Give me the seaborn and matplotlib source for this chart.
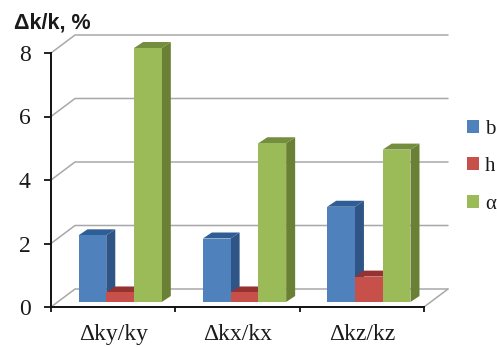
import matplotlib
matplotlib.use("Agg")
import matplotlib.pyplot as plt
from matplotlib.patches import Patch, Polygon
from matplotlib.transforms import Affine2D
import pandas as pd
import seaborn as sns

categories = ["\u0394ky/ky", "\u0394kx/kx", "\u0394kz/kz"]
b_values = [2.1, 2.0, 3.0]
h_values = [0.3, 0.3, 0.8]
alpha_values = [8.0, 5.0, 4.8]
series_names = ["b", "h", "\u03b1"]
y_ticks = [0, 2, 4, 6, 8]

front_colors = ["#4F81BD", "#C8504B", "#9BBB59"]
side_colors = ["#2F5587", "#8E3734", "#6A8135"]
top_colors = ["#2F5E96", "#963330", "#748E3F"]

W, H = 497, 347
sns.set_theme(style="white")
plt.rcParams["font.family"] = ["Liberation Serif", "DejaVu Serif"]

fig = plt.figure(figsize=(W / 100, H / 100), dpi=100, facecolor="white")
ax = fig.add_axes([51 / W, (H - 307) / H, 373 / W, 254 / H])

df = pd.DataFrame({
    "category": categories * 3,
    "series": [s for s in series_names for _ in categories],
    "value": b_values + h_values + alpha_values,
})
sns.barplot(data=df, x="category", y="value", hue="series", hue_order=series_names,
            palette=front_colors, saturation=1, width=0.67, gap=0, legend=False,
            errorbar=None, ax=ax, linewidth=0)

ax.set_xlim(-0.5, 2.5)
ax.set_ylim(0, 8)
ax.set_xlabel("")
ax.set_ylabel("")

# Oblique back wall and floor, in pixels relative to the front axes
wall_dx, wall_dy = 24, 18
pixel = matplotlib.transforms.IdentityTransform()
grid_color = "#A8A8A8"
for v in y_ticks:
    x0, y0 = ax.transData.transform((-0.5, v))
    x1, _ = ax.transData.transform((2.5, v))
    xs = [x0, x0 + wall_dx, x1 + wall_dx]
    ys = [y0, y0 + wall_dy, y0 + wall_dy]
    ax.add_line(plt.Line2D(xs, ys, transform=pixel, color=grid_color, lw=1.1,
                           zorder=1, clip_on=False))
x1, y0 = ax.transData.transform((2.5, 0))
ax.add_line(plt.Line2D([x1, x1 + wall_dx], [y0, y0 + wall_dy], transform=pixel,
                       color=grid_color, lw=1.1, zorder=1, clip_on=False))

# Extrude every bar into a box standing slightly behind the front axis plane
bar_shift = Affine2D().translate(7, 5)
depth_dx, depth_dy = 9, 6
n_cat = len(categories)
for i, bar in enumerate(ax.patches):
    s = i // n_cat
    z = 3 + i % n_cat * 10 + s * 3
    bar.set_transform(ax.transData + bar_shift)
    bar.set_zorder(z + 2)
    bar.set_clip_on(False)
    (xa, ya), (xb, yb) = (ax.transData + bar_shift).transform(
        [(bar.get_x(), 0), (bar.get_x() + bar.get_width(), bar.get_height())])
    side = [(xb, ya), (xb + depth_dx, ya + depth_dy), (xb + depth_dx, yb + depth_dy), (xb, yb)]
    top = [(xa, yb), (xa + depth_dx, yb + depth_dy), (xb + depth_dx, yb + depth_dy), (xb, yb)]
    ax.add_patch(Polygon(side, closed=True, transform=pixel, facecolor=side_colors[s],
                         edgecolor="none", zorder=z, clip_on=False))
    ax.add_patch(Polygon(top, closed=True, transform=pixel, facecolor=top_colors[s],
                         edgecolor="none", zorder=z + 1, clip_on=False))

# Axes: ticks on the category boundaries, labels centred between them
ax.set_yticks(y_ticks)
ax.set_xticks([-0.5, 0.5, 1.5, 2.5])
ax.set_xticklabels([])
ax.set_xticks([0, 1, 2], minor=True)
ax.set_xticklabels(categories, minor=True)
ax.tick_params(axis="x", which="major", bottom=True, length=3.6, width=1.3, color="#111111")
ax.tick_params(axis="x", which="minor", bottom=False, length=0, pad=12,
               labelsize=17, labelcolor="#1a1a1a")
ax.tick_params(axis="y", left=True, length=4.7, width=1.3, color="#111111", pad=10,
               labelsize=17, labelcolor="#1a1a1a")
for name in ("top", "right"):
    ax.spines[name].set_visible(False)
for name in ("left", "bottom"):
    ax.spines[name].set_color("#111111")
    ax.spines[name].set_linewidth(1.4)
    ax.spines[name].set_zorder(60)
ax.patch.set_alpha(0)

fig.text(14 / W, (H - 29) / H, "\u0394k/k, %", family="Liberation Sans", weight="bold",
         fontsize=15.5, color="#1a1a1a", ha="left", va="baseline")

handles = [Patch(facecolor=c, edgecolor="none", label=n)
           for c, n in zip(front_colors, series_names)]
fig.legend(handles=handles, loc="upper left", bbox_to_anchor=(467 / W, (H - 120) / H),
           frameon=False, fontsize=15, handlelength=0.58, handleheight=0.58,
           handletextpad=0.28, labelspacing=0.88, borderpad=0, borderaxespad=0,
           labelcolor="#1a1a1a")

fig.savefig("out.png", dpi=100, facecolor="white")
